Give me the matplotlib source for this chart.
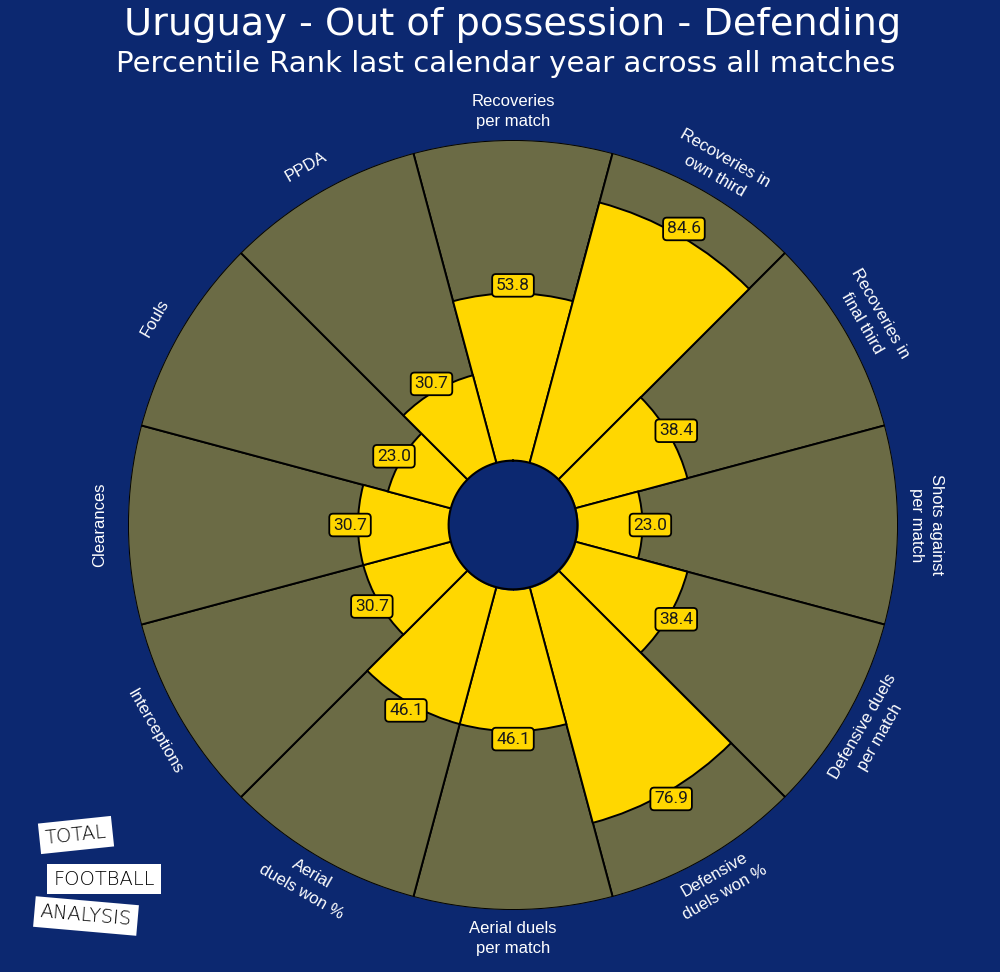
import numpy as np
import matplotlib
matplotlib.use("Agg")
import matplotlib.pyplot as plt

# ---- data ----
params = ["Recoveries\nper match", "Recoveries in\nown third", "Recoveries in\nfinal third",
          "Shots against\nper match", "Defensive duels\nper match", "Defensive\nduels won %",
          "Aerial duels\nper match", "Aerial\nduels won %", "Interceptions", "Clearances",
          "Fouls", "PPDA"]
values = [53.8, 84.6, 38.4, 23.0, 38.4, 76.9, 46.1, 46.1, 30.7, 30.7, 23.0, 30.7]
title = "Uruguay - Out of possession - Defending"
subtitle = "Percentile Rank last calendar year across all matches"

BG = "#0C2870"
OLIVE = "#6B6B45"
YELLOW = "#FFD700"
BASE = 16.0      # radial origin offset (data units)
CIRCLE = 19.4    # radius of the centre disc (data units)

fig = plt.figure(figsize=(10, 9.72), dpi=100, facecolor=BG)
cx, cy = 0.513, 1 - 525 / 972
rw, rh = 385 / 1000, 385 / 972
ax = fig.add_axes([cx - rw, cy - rh, 2 * rw, 2 * rh], projection="polar")
ax.set_facecolor(BG)
ax.set_theta_zero_location("N")
ax.set_theta_direction(-1)
ax.set_ylim(0, 100 + BASE)

n = len(params)
theta = np.arange(n) * 2 * np.pi / n
width = 2 * np.pi / n

ax.bar(theta, [100] * n, width=width, bottom=BASE, color=OLIVE, edgecolor="black",
       linewidth=1.4, zorder=2)
ax.bar(theta, values, width=width, bottom=BASE, color=YELLOW, edgecolor="black",
       linewidth=1.4, zorder=3)

# center disc
tt = np.linspace(0, 2 * np.pi, 400)
ax.fill_between(tt, 0, CIRCLE, color=BG, zorder=4)
ax.plot(tt, [CIRCLE] * len(tt), color="black", lw=1.5, zorder=5)

ax.set_xticks([])
ax.set_yticks([])
ax.grid(False)
ax.spines["polar"].set_visible(False)

for th, v in zip(theta, values):
    ax.text(th, BASE + v + 2.4, f"{v:.1f}", ha="center", va="center", fontsize=12.5,
            family="Roboto", color="#1a1a1a", zorder=6,
            bbox=dict(boxstyle="round,pad=0.22", facecolor=YELLOW, edgecolor="black", lw=1.3))

for th, p in zip(theta, params):
    ang = 90 - np.degrees(th)  # math angle
    ang = (ang + 180) % 360 - 180
    if ang > 1e-6:
        rot = ang - 90
    else:
        rot = ang + 90
    if abs(ang) < 1e-6:
        rot = -90
    if abs(abs(ang) - 180) < 1e-6:
        rot = 90
    ax.text(th, 100 + BASE + 8.6, p, ha="center", va="center", rotation=rot,
            rotation_mode="anchor", fontsize=12, family="Liberation Sans", color="white",
            linespacing=1.45, zorder=6)

fig.text(0.513, 1 - 25 / 972, title, ha="center", va="center", fontsize=27.5,
         family="DejaVu Sans", color="white")
fig.text(0.506, 1 - 64 / 972, subtitle, ha="center", va="center", fontsize=21,
         family="DejaVu Sans", color="white")

# logo-like text boxes
for (x, y, s, r) in [(0.076, 1 - 835 / 972, "TOTAL", 6), (0.104, 1 - 879 / 972, "FOOTBALL", 0),
                     (0.086, 1 - 916 / 972, "ANALYSIS", -5)]:
    fig.text(x, y, s, ha="center", va="center", rotation=r, fontsize=14, family="DejaVu Sans",
             color="black", fontweight="light",
             bbox=dict(boxstyle="square,pad=0.3", facecolor="white", edgecolor="none"))

fig.savefig("out.png", dpi=100, facecolor=BG)
